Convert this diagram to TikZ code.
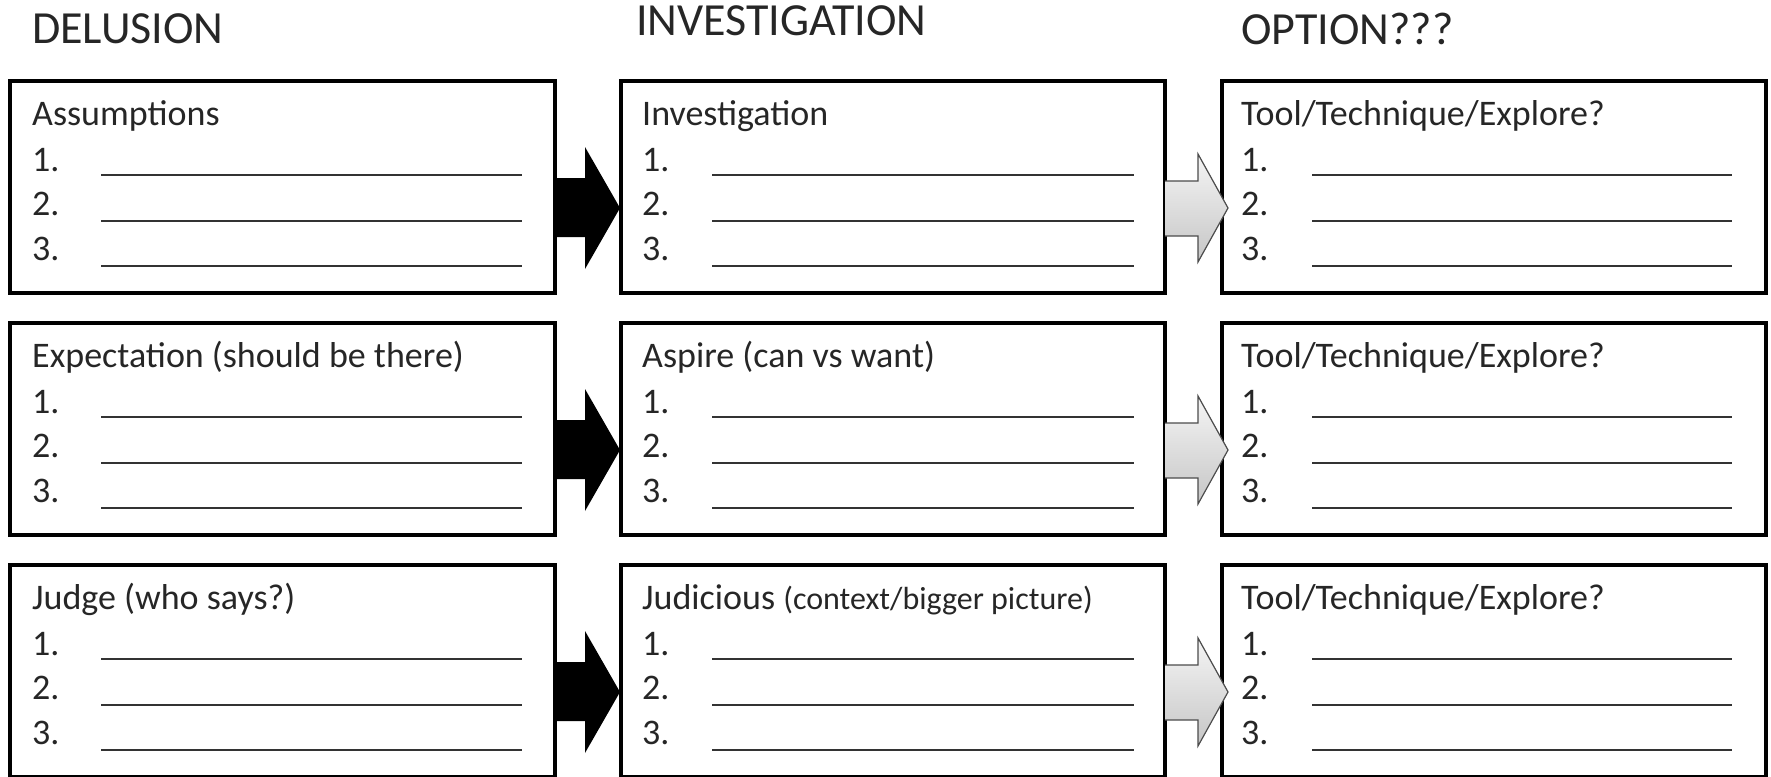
\documentclass[tikz,border=0pt]{standalone}
\usepackage{fontspec}
\setmainfont{Carlito}
\begin{document}
\begin{tikzpicture}[x=1pt,y=-1pt,
  box/.style={draw=black, line width=4pt, anchor=north west, inner sep=0pt,
              outer sep=0pt, minimum height=212pt},
  ttl/.style={anchor=base west, inner sep=0pt, text=black!85,
              font=\fontsize{46}{46}\selectfont},
  bodytxt/.style={anchor=base west, inner sep=0pt, text=black!85,
              font=\fontsize{36}{36}\selectfont},
  fillline/.style={draw=black!80, line width=2pt},
  blackarrow/.style={fill=black},
  grayarrow/.style={draw=black!70, line width=1.2pt, line join=miter,
              top color=gray!8, bottom color=gray!45}]
\useasboundingbox (0,0) rectangle (1771,776);
\begin{scope}
\clip (0,0) rectangle (1771,776);
% titles
\node[ttl] (tdel) at (32,44) {DELUSION};
\node[ttl] (tinv) at (636,36) {INVESTIGATION};
\node[ttl] (topt) at (1241,45) {OPTION???};
% boxes
\foreach \c/\x/\w in {1/10/545, 2/621/544, 3/1222/544} {
  \foreach \r/\t in {1/81, 2/323, 3/565} {
    \node[box, minimum width=\w pt] (b\c\r) at (\x,\t) {};
  }
}
% box headings
\node[bodytxt] (h11) at (32,125) {Assumptions};
\node[bodytxt] (h12) at (32,367) {Expectation (should be there)};
\node[bodytxt] (h13) at (32,609) {Judge (who says?)};
\node[bodytxt] (h21) at (642,125) {Investigation};
\node[bodytxt] (h22) at (642,367) {Aspire (can vs want)};
\node[bodytxt] (h23) at (642,609) {Judicious {\fontsize{32}{32}\selectfont(context/bigger picture)}};
\node[bodytxt] (h31) at (1241,125) {Tool/Technique/Explore?};
\node[bodytxt] (h32) at (1241,367) {Tool/Technique/Explore?};
\node[bodytxt] (h33) at (1241,609) {Tool/Technique/Explore?};
% numbered lines
\foreach \c/\tx/\la/\lb in {1/32/101/522, 2/642/712/1134, 3/1241/1312/1732} {
  \foreach \r/\t in {1/81, 2/323, 3/565} {
    \foreach \k in {1,2,3} {
      \node[bodytxt] (n\c\r\k) at (\tx,{\t+90+44.5*(\k-1)}) {\k.};
      \draw[fillline] (\la,{\t+94+45.5*(\k-1)}) -- (\lb,{\t+94+45.5*(\k-1)});
    }
  }
}
% arrows
\foreach \r in {1,2,3} {
  \fill[blackarrow, shift={(b1\r.north east)}]
    (0,97) -- (30,97) -- (30,66) -- (65,127) -- (30,188) -- (30,156) -- (0,156) -- cycle;
  \draw[grayarrow, shift={(b2\r.north east)}]
    (0,100) -- (33,100) -- (33,73) -- (63,127) -- (33,181) -- (33,155) -- (0,155);
}
\end{scope}
\end{tikzpicture}
\end{document}
